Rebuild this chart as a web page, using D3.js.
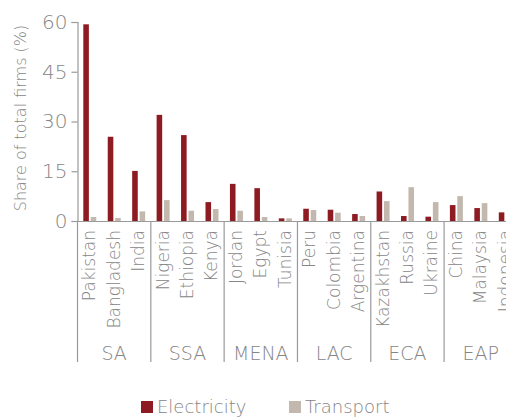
<!DOCTYPE html>
<html>
<head>
<meta charset="utf-8">
<script src="https://cdn.jsdelivr.net/npm/d3@7"></script>
<style>
  body { margin: 0; background: #fff; }
  svg { display: block; }
  text { font-family: "DejaVu Sans", sans-serif; font-weight: 200; fill: #858585; }
</style>
</head>
<body>
<svg id="chart" width="506" height="417"></svg>
<script>
// data
var countries = ["Pakistan", "Bangladesh", "India", "Nigeria", "Ethiopia", "Kenya",
    "Jordan", "Egypt", "Tunisia", "Peru", "Colombia", "Argentina",
    "Kazakhstan", "Russia", "Ukraine", "China", "Malaysia", "Indonesia"]
var regions = ["SA", "SSA", "MENA", "LAC", "ECA", "EAP"]
var electricity = [59.3, 25.4, 15.1, 32.0, 25.9, 5.7, 11.2, 9.9, 0.8, 3.7, 3.4, 2.1, 8.9, 1.5, 1.3, 4.8, 3.9, 2.6]
var transport = [1.2, 0.9, 2.9, 6.3, 3.1, 3.6, 3.1, 1.2, 0.8, 3.3, 2.5, 1.5, 6.0, 10.2, 5.7, 7.5, 5.4, 3.0]
var series = ["Electricity", "Transport"]
var colors = ["#8e1b22", "#c2b8ae"]
var yTicks = [0, 15, 30, 45, 60]

var svg = d3.select("#chart")
var marginLeft = 77.5, plotTop = 22, plotBottom = 221
var step = 24.44

var x = d3.scaleBand().domain(countries).range([marginLeft, marginLeft + step * countries.length])
var xSub = d3.scaleBand().domain(series).range([5.8, 18.8]).paddingInner(0.25)
var y = d3.scaleLinear().domain([0, 60]).range([plotBottom, plotTop])

var rows = countries.map(function(c, i) {
    return {country: c, values: [electricity[i], transport[i]]}
})

// bars
var g = svg.append("g")
g.selectAll(".grp")
    .data(rows)
    .enter().append("g")
    .attr("transform", function(d) { return "translate(" + x(d.country) + ",0)" })
    .selectAll("rect")
    .data(function(d) { return d.values.map(function(v, k) { return {key: series[k], value: v, k: k} }) })
    .enter().append("rect")
    .attr("x", function(d) { return xSub(d.key) })
    .attr("width", xSub.bandwidth())
    .attr("y", function(d) { return y(d.value) })
    .attr("height", function(d) { return plotBottom - y(d.value) })
    .attr("fill", function(d) { return colors[d.k] })

// y axis
var yAxis = svg.append("g")
    .attr("transform", "translate(" + marginLeft + ",0)")
    .call(d3.axisLeft(y).tickValues(yTicks).tickSize(6).tickPadding(4))
yAxis.select(".domain").attr("stroke", "#9a9a9a").attr("stroke-width", 1.2)
yAxis.selectAll(".tick line").attr("stroke", "#9a9a9a").attr("stroke-width", 1.2)
yAxis.selectAll(".tick text")
    .attr("font-size", 20)
    .attr("fill", "#858585")
    .style("font-family", "DejaVu Sans, sans-serif")
    .style("font-weight", 200)

// x axis line
var xAxis = svg.append("g")
    .attr("transform", "translate(0," + plotBottom + ")")
    .call(d3.axisBottom(x).tickSize(0).tickFormat(""))
xAxis.select(".domain").attr("stroke", "#9a9a9a").attr("stroke-width", 1.2)

// country labels
svg.selectAll(".clabel")
    .data(countries)
    .enter().append("text")
    .attr("class", "clabel")
    .attr("transform", function(d) { return "translate(" + (x(d) + step / 2 + 5.5) + ",230) rotate(-90)" })
    .attr("text-anchor", "end")
    .attr("font-size", 17)
    .text(function(d) { return d })

// region separators and labels
var regionW = step * 3
svg.selectAll(".sep")
    .data(d3.range(regions.length + 1))
    .enter().append("line")
    .attr("x1", function(i) { return marginLeft + i * regionW })
    .attr("x2", function(i) { return marginLeft + i * regionW })
    .attr("y1", plotBottom)
    .attr("y2", 362)
    .attr("stroke", "#9a9a9a")
    .attr("stroke-width", 1.2)

svg.selectAll(".rlabel")
    .data(regions)
    .enter().append("text")
    .attr("x", function(d, i) { return marginLeft + i * regionW + regionW / 2 })
    .attr("y", 360)
    .attr("text-anchor", "middle")
    .attr("font-size", 19)
    .text(function(d) { return d })

// y title
svg.append("text")
    .attr("transform", "translate(26,118) rotate(-90)")
    .attr("text-anchor", "middle")
    .attr("font-size", 16)
    .text("Share of total firms (%)")

// legend
var legendX = [141, 289]
var leg = svg.selectAll(".leg")
    .data(series)
    .enter().append("g")
    .attr("transform", function(d, i) { return "translate(" + legendX[i] + ",401)" })
leg.append("rect")
    .attr("width", 12).attr("height", 12)
    .attr("fill", function(d, i) { return colors[i] })
leg.append("text")
    .attr("x", 16).attr("y", 12)
    .attr("font-size", 18)
    .text(function(d) { return d })
</script>
</body>
</html>
